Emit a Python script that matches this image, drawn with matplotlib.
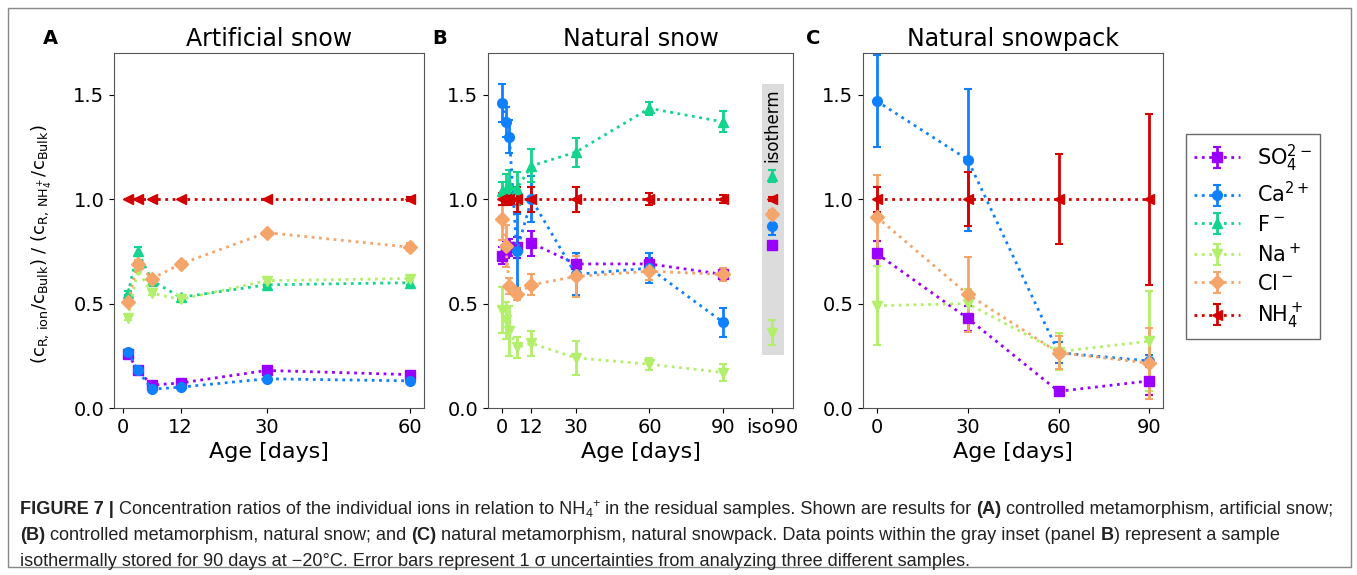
import matplotlib
matplotlib.use('Agg')
import matplotlib.pyplot as plt
from matplotlib.patches import Rectangle

# ion names / colours / markers
ions = ['SO4', 'Ca', 'F', 'Na', 'Cl', 'NH4']
labels = [r'SO$_4^{2-}$', r'Ca$^{2+}$', r'F$^-$', r'Na$^+$', r'Cl$^-$', r'NH$_4^+$']
colors = ['#9a00ff', '#0f80ff', '#12d48c', '#b2ef6a', '#f5a56a', '#d20000']
markers = ['s', 'o', '^', 'v', 'D', '<']

# panel A - artificial snow
days_a = [1, 3, 6, 12, 30, 60]
so4_a = [0.26, 0.18, 0.11, 0.12, 0.18, 0.16]
ca_a = [0.27, 0.18, 0.09, 0.10, 0.14, 0.13]
f_a = [0.55, 0.75, 0.61, 0.53, 0.59, 0.60]
na_a = [0.43, 0.66, 0.55, 0.52, 0.61, 0.62]
cl_a = [0.51, 0.69, 0.62, 0.69, 0.84, 0.77]
nh4_a = [1.0, 1.0, 1.0, 1.0, 1.0, 1.0]
so4_a_err = [0.01, 0.01, 0.01, 0.01, 0.01, 0.01]
ca_a_err = [0.01, 0.01, 0.01, 0.01, 0.01, 0.01]
f_a_err = [0.01, 0.02, 0.01, 0.01, 0.01, 0.01]
na_a_err = [0.01, 0.01, 0.01, 0.01, 0.01, 0.01]
cl_a_err = [0.01, 0.02, 0.01, 0.01, 0.01, 0.02]
nh4_a_err = [0.0, 0.0, 0.0, 0.0, 0.0, 0.01]

# panel B - natural snow
days_b = [0, 1.5, 3, 6, 12, 30, 60, 90]
so4_b = [0.73, 0.76, 0.77, 0.77, 0.79, 0.69, 0.69, 0.64]
ca_b = [1.46, 1.37, 1.30, 0.75, 1.00, 0.64, 0.67, 0.41]
f_b = [1.04, 1.05, 1.07, 1.05, 1.16, 1.225, 1.435, 1.37]
na_b = [0.47, 0.42, 0.37, 0.29, 0.31, 0.24, 0.21, 0.17]
cl_b = [0.905, 0.775, 0.585, 0.545, 0.59, 0.63, 0.655, 0.64]
nh4_b = [1.0, 1.0, 1.0, 1.0, 1.0, 1.0, 1.0, 1.0]
so4_b_err = [0.04, 0.04, 0.04, 0.05, 0.06, 0.04, 0.03, 0.02]
ca_b_err = [0.09, 0.07, 0.08, 0.18, 0.11, 0.10, 0.07, 0.07]
f_b_err = [0.04, 0.07, 0.07, 0.08, 0.08, 0.07, 0.03, 0.05]
na_b_err = [0.11, 0.09, 0.12, 0.05, 0.06, 0.08, 0.03, 0.04]
cl_b_err = [0.10, 0.10, 0.04, 0.03, 0.05, 0.10, 0.04, 0.03]
nh4_b_err = [0.03, 0.03, 0.03, 0.06, 0.06, 0.06, 0.03, 0.02]

# isothermally stored sample (inset of panel B)
iso_day = 110
iso_vals = [0.78, 0.87, 1.11, 0.36, 0.93, 1.0]
iso_err = [0.01, 0.04, 0.03, 0.06, 0.02, 0.01]

# panel C - natural snowpack (no F-)
days_c = [0, 30, 60, 90]
so4_c = [0.74, 0.43, 0.08, 0.13]
ca_c = [1.47, 1.19, 0.265, 0.225]
na_c = [0.49, 0.50, 0.27, 0.32]
cl_c = [0.915, 0.545, 0.265, 0.215]
nh4_c = [1.0, 1.0, 1.0, 1.0]
so4_c_err = [0.06, 0.06, 0.01, 0.07]
ca_c_err = [0.22, 0.34, 0.05, 0.03]
na_c_err = [0.19, 0.07, 0.09, 0.24]
cl_c_err = [0.20, 0.18, 0.08, 0.17]
nh4_c_err = [0.06, 0.13, 0.215, 0.41]

ticks_a = [0, 12, 30, 60]
ticks_b = [0, 12, 30, 60, 90, iso_day]
ticklabels_b = ['0', '12', '30', '60', '90', 'iso90']
ticks_c = [0, 30, 60, 90]


def plot_series(ax, x, y, err, i):
    return ax.errorbar(x, y, yerr=err, color=colors[i], marker=markers[i], ms=7,
                       ls=':', lw=2, elinewidth=2, capsize=3, capthick=1.5,
                       label=labels[i])


plt.rcParams['font.size'] = 14
fig = plt.figure(figsize=(13.57, 5.75), dpi=100)

axA = fig.add_axes([0.0840, 0.2904, 0.2285, 0.6174])
axB = fig.add_axes([0.3596, 0.2904, 0.2248, 0.6174])
axC = fig.add_axes([0.6360, 0.2904, 0.2211, 0.6174])

data_a = [(so4_a, so4_a_err), (ca_a, ca_a_err), (f_a, f_a_err),
          (na_a, na_a_err), (cl_a, cl_a_err), (nh4_a, nh4_a_err)]
for i, (y, e) in enumerate(data_a):
    plot_series(axA, days_a, y, e, i)

data_b = [(so4_b, so4_b_err), (ca_b, ca_b_err), (f_b, f_b_err),
          (na_b, na_b_err), (cl_b, cl_b_err), (nh4_b, nh4_b_err)]
handles = []
for i, (y, e) in enumerate(data_b):
    handles.append(plot_series(axB, days_b, y, e, i))
axB.add_patch(Rectangle((105.6, 0.255), 9.2, 1.295, facecolor='#dcdcdc',
                        edgecolor='none', zorder=0))
axB.text(iso_day, 1.355, 'isotherm', rotation=90, ha='center', va='center', fontsize=12)
for i in range(6):
    axB.errorbar([iso_day], [iso_vals[i]], yerr=[iso_err[i]], color=colors[i],
                 marker=markers[i], ms=7, elinewidth=2, capsize=3, capthick=1.5)

data_c = [(so4_c, so4_c_err, 0), (ca_c, ca_c_err, 1), (na_c, na_c_err, 3),
          (cl_c, cl_c_err, 4), (nh4_c, nh4_c_err, 5)]
for y, e, i in data_c:
    plot_series(axC, days_c, y, e, i)

axA.set_xlim(-1.95, 62.95)
axB.set_xlim(-5.7, 118.4)
axC.set_xlim(-4.5, 94.5)
axA.set_xticks(ticks_a)
axB.set_xticks(ticks_b)
axB.set_xticklabels(ticklabels_b)
axC.set_xticks(ticks_c)

for ax, title, letter, lx in [(axA, 'Artificial snow', 'A', -0.229),
                              (axB, 'Natural snow', 'B', -0.184),
                              (axC, 'Natural snowpack', 'C', -0.19)]:
    ax.set_ylim(0, 1.7)
    ax.set_yticks([0.0, 0.5, 1.0, 1.5])
    ax.set_title(title, fontsize=17, pad=5)
    ax.set_xlabel('Age [days]', fontsize=16)
    ax.tick_params(labelsize=14)
    for s in ax.spines.values():
        s.set_color('#555555')
    ax.text(lx, 1.042, letter, transform=ax.transAxes, fontsize=14,
            fontweight='bold', ha='left', va='center')

axA.set_ylabel(r'$(\mathrm{c_{R,\,ion}/c_{Bulk}})\ /\ (\mathrm{c_{R,\,NH_4^+}/c_{Bulk}})$',
               fontsize=13)
axA.yaxis.set_label_coords(-0.195, 0.46)

leg = fig.legend(handles=handles, labels=labels, loc='upper left',
                 bbox_to_anchor=(1186 / 1357, 1 - 134 / 575), borderaxespad=0,
                 fontsize=15, fancybox=False, edgecolor='#444444',
                 handlelength=2.2, labelspacing=0.38)

# outer frame
fig.patches.append(Rectangle((8 / 1357, 8 / 575), 1343 / 1357, 559 / 575,
                             transform=fig.transFigure, fill=False,
                             edgecolor='#888888', lw=1))

# caption, drawn as runs of text
cap_font = ['Liberation Sans', 'DejaVu Sans']
lines = [
    [('FIGURE 7 |', 'bold', 0), (' Concentration ratios of the individual ions in relation to NH', 'normal', 0),
     ('4', 'normal', -1), ('+', 'normal', 1),
     (' in the residual samples. Shown are results for ', 'normal', 0), ('(A)', 'bold', 0),
     (' controlled metamorphism, artificial snow;', 'normal', 0)],
    [('(B)', 'bold', 0), (' controlled metamorphism, natural snow; and ', 'normal', 0), ('(C)', 'bold', 0),
     (' natural metamorphism, natural snowpack. Data points within the gray inset (panel ', 'normal', 0),
     ('B', 'bold', 0), (') represent a sample', 'normal', 0)],
    [('isothermally stored for 90 days at \u221220\u00b0C. Error bars represent 1 \u03c3 uncertainties from analyzing three different samples.', 'normal', 0)],
]
line_y = [510, 536, 561]
fig.canvas.draw()
renderer = fig.canvas.get_renderer()


def draw_line(runs, py, base):
    x = 20
    objs = []
    for txt, weight, shift in runs:
        size = base if shift == 0 else base * 0.7
        dy = {0: 0, -1: 4, 1: -6}[shift]
        t = fig.text(x / 1357, 1 - (py + dy) / 575, txt, fontsize=size, fontweight=weight,
                     family=cap_font, color='#222222', ha='left', va='center')
        x += t.get_window_extent(renderer).width
        objs.append(t)
    return x, objs


# first line must end near x=1340, size the caption to fit
end, objs = draw_line(lines[0], line_y[0], 14)
for t in objs:
    t.remove()
base = 14 * (1340 - 20) / (end - 20)
for runs, py in zip(lines, line_y):
    draw_line(runs, py, base)

fig.savefig('out.png', dpi=100)
